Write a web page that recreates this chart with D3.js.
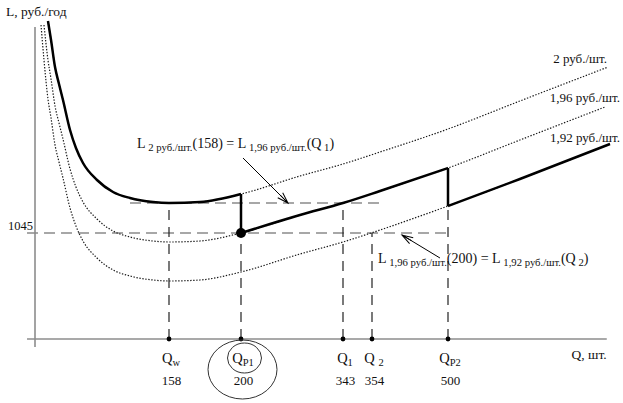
<!DOCTYPE html>
<html><head><meta charset="utf-8">
<script src="https://cdn.jsdelivr.net/npm/d3@7"></script>
<style>
body{margin:0;background:#fff}
svg{display:block}
text{font-family:"Liberation Serif","Times New Roman",serif;fill:#111;white-space:pre}
</style>
</head><body>
<svg id="c" width="623" height="403"></svg>
<script>
// ---- data (schematic, not to scale) ----
const qTicks = [158, 200, 343, 354, 500];
const qNames = [["Q","w"],["Q","P1"],["Q","1"],["Q ","2"],["Q","P2"]];
const lTicks = [1045];
const priceLabels = ["2 руб./шт.", "1,96 руб./шт.", "1,92 руб./шт."];

// cost curve at 2 руб./шт.
const q2  = [15.3,18.9,23.6,28.3,33.0,41.3,48.3,56.6,73.1,92.0,112.0,139.1,158,176.1,200,282.7,343,369.4,500,544.4,598.8];
const l2  = [1257,1238,1211,1194,1178,1148,1130,1115,1098,1086,1080,1076,1075,1076,1084,1102,1114,1126,1149,1177,1211];
// cost curve at 1,96 руб./шт.
const q196 = [10.6,15.3,18.9,23.6,28.3,33.0,41.3,48.3,56.6,73.1,92.0,112.0,139.1,158,176.1,200,282.7,343,369.4,500,544.4,596.9];
const l196 = [1253,1218,1199,1172,1155,1139,1109,1091,1076,1059,1047,1041,1037,1036,1037,1045,1063,1075,1087,1110,1138,1171];
// cost curve at 1,92 руб./шт.
const q192 = [7.1,10.6,15.3,18.9,23.6,28.3,33.0,41.3,48.3,56.6,73.1,92.0,112.0,139.1,158,176.1,200,282.7,343,369.4,500,544.4,600];
const l192 = [1253,1218,1179,1160,1133,1116,1100,1070,1052,1037,1020,1008,1002,998,997,998,1006,1024,1036,1048,1072,1099,1134];

const levelA = 1075;   // L2(158) = L1.96(Q1)
const levelB = 1045;   // L1.96(200) = L1.92(Q2)
const tickTops = [1075, 1045, 1075, 1045, 1072];

// ---- scales ----
const x = d3.scaleLinear().domain([0,158,200,343,354,500,600]).range([35,169,241,343,372,448,610]);
const y = d3.scaleLinear().domain([939,1259]).range([339,19]);

const svg = d3.select("#c");
const pts = (qs, ls) => qs.map((q,i)=>[q, ls[i]]);
const c2 = pts(q2,l2), c196 = pts(q196,l196), c192 = pts(q192,l192);
const line = d3.line().x(d=>x(d[0])).y(d=>y(d[1])).curve(d3.curveMonotoneX);

// axes lines
const axisG = svg.append("g");
axisG.append("line").attr("x1", x(0)).attr("x2", x(0)).attr("y1", y(1251)).attr("y2", y(931))
  .attr("stroke","#8c8c8c").attr("stroke-width",1.6);
axisG.append("line").attr("x1", x(-9.4)).attr("x2", x(598)).attr("y1", y(939)).attr("y2", y(939))
  .attr("stroke","#8c8c8c").attr("stroke-width",1.6);

// dashed horizontals
svg.append("line").attr("x1", x(112)).attr("x2", x(379)).attr("y1", y(levelA)).attr("y2", y(levelA))
  .attr("stroke","#8a8a8a").attr("stroke-width",1.4).attr("stroke-dasharray","11,6");
svg.append("line").attr("x1", x(-9.4)).attr("x2", x(498)).attr("y1", y(levelB)).attr("y2", y(levelB))
  .attr("stroke","#8a8a8a").attr("stroke-width",1.4).attr("stroke-dasharray","11,6");

// dashed verticals (drawn from axis upward)
qTicks.forEach((q,i)=>{
  svg.append("line").attr("x1", x(q)).attr("x2", x(q)).attr("y1", y(939)).attr("y2", y(tickTops[i]))
    .attr("stroke","#222").attr("stroke-width",1.2).attr("stroke-dasharray","10,7");
});

// dotted curves
[c2, c196, c192].forEach(c=>{
  svg.append("path").attr("d", line(c)).attr("fill","none")
    .attr("stroke","#1a1a1a").attr("stroke-width",1.2).attr("stroke-dasharray","1.4,1.6");
});

// thick total-cost line
const thick = svg.append("g").attr("fill","none").attr("stroke","#000").attr("stroke-width",2.5);
thick.append("path").attr("d", line(c2.filter(d=>d[0]<=200)));
thick.append("path").attr("d", line(c196.filter(d=>d[0]>=200 && d[0]<=500)));
thick.append("path").attr("d", line(c192.filter(d=>d[0]>=500)));
const at = (c,q)=>c.find(d=>d[0]===q)[1];
thick.append("path").attr("d", d3.line().x(d=>x(d[0])).y(d=>y(d[1]))([[200,at(c2,200)],[200,at(c196,200)]]));
thick.append("path").attr("d", d3.line().x(d=>x(d[0])).y(d=>y(d[1]))([[500,at(c196,500)],[500,at(c192,500)]]));

// points
svg.append("circle").attr("cx", x(200)).attr("cy", y(levelB)).attr("r",5).attr("fill","#000");
qTicks.forEach(q=>svg.append("circle").attr("cx", x(q)).attr("cy", y(939)).attr("r",2.4).attr("fill","#000"));

// x axis labels (numbers) via d3 axis
const xa = svg.append("g").attr("transform",`translate(0,${y(939)})`)
  .call(d3.axisBottom(x).tickValues(qTicks).tickSize(0).tickPadding(37).tickFormat(d3.format("d")));
xa.select(".domain").remove();
xa.attr("font-family",null).attr("font-size",null);
xa.selectAll("text").attr("font-size",13).attr("fill","#111").attr("dx",2);

// y axis label
const ya = svg.append("g").attr("transform",`translate(${x(0)},0)`)
  .call(d3.axisLeft(y).tickValues(lTicks).tickSize(0).tickPadding(2).tickFormat(d3.format("d")));
ya.select(".domain").remove();
ya.attr("font-family",null).attr("font-size",null);
ya.selectAll("text").attr("font-size",12.5).attr("fill","#111").attr("dy",-4);

// Q labels
qTicks.forEach((q,i)=>{
  const t = svg.append("text").attr("x", x(q)+2).attr("y", 363).attr("text-anchor","middle");
  t.append("tspan").text(qNames[i][0]).attr("font-size",14.5);
  t.append("tspan").text(qNames[i][1]).attr("font-size",10.5).attr("dy",3);
});

// ellipses around Q_P1
svg.append("ellipse").attr("cx", x(200)+3.5).attr("cy",358).attr("rx",17).attr("ry",15)
  .attr("fill","none").attr("stroke","#333").attr("stroke-width",1);
svg.append("ellipse").attr("cx", x(200)+1.5).attr("cy",369.5).attr("rx",34.5).attr("ry",29.5)
  .attr("fill","none").attr("stroke","#333").attr("stroke-width",1);

// axis titles
svg.append("text").attr("x",6).attr("y",16).attr("font-size",13.5).text("L, руб./год");
svg.append("text").attr("x",x(598)).attr("y",359).attr("text-anchor","end").attr("font-size",13.5).text("Q, шт.");

// price labels
const ends = [c2[c2.length-1], c196[c196.length-1], c192[c192.length-1]];
const offs = [[-1,-4],[15,-5],[10,-2]];
priceLabels.forEach((s,i)=>{
  svg.append("text").attr("x", x(ends[i][0])+offs[i][0]).attr("y", y(ends[i][1])+offs[i][1])
    .attr("text-anchor","end").attr("font-size",13).text(s);
});

// annotations
function rich(xq, yl, parts){
  const t = svg.append("text").attr("x", x(xq)).attr("y", y(yl));
  let prev=false;
  parts.forEach(([s,sub])=>{
    const ts = t.append("tspan").text(s).attr("font-size", sub?10.7:14);
    if(sub && !prev) ts.attr("dy",3);
    if(!sub && prev) ts.attr("dy",-3);
    prev=sub;
  });
}
rich(120.3, 1130, [["L",0],[" 2 руб./шт.",1],["(158) = L",0],[" 1,96 руб./шт.",1],["(Q",0],[" 1",1],[")",0]]);
rich(365.5, 1015, [["L",0],[" 1,96 руб./шт.",1],["(200) = L",0],[" 1,92 руб./шт.",1],["(Q",0],[" 2",1],[")",0]]);

// arrows
const defs = svg.append("defs");
defs.append("marker").attr("id","ah").attr("viewBox","-12 -6 14 12").attr("refX",0).attr("refY",0)
  .attr("markerWidth",14).attr("markerHeight",12).attr("markerUnits","userSpaceOnUse").attr("orient","auto")
  .append("path").attr("d","M-11,-3.5 L0,0 L-11,3.5 M-11,0 L0,0").attr("fill","none").attr("stroke","#000").attr("stroke-width",1);
[[[202.8,1120],[265.9,1075]],[[484.6,1020],[411.6,1043]]].forEach(([a,b])=>{
  svg.append("line").attr("x1",x(a[0])).attr("y1",y(a[1])).attr("x2",x(b[0])).attr("y2",y(b[1]))
    .attr("stroke","#000").attr("stroke-width",1).attr("marker-end","url(#ah)");
});
</script>
</body></html>
